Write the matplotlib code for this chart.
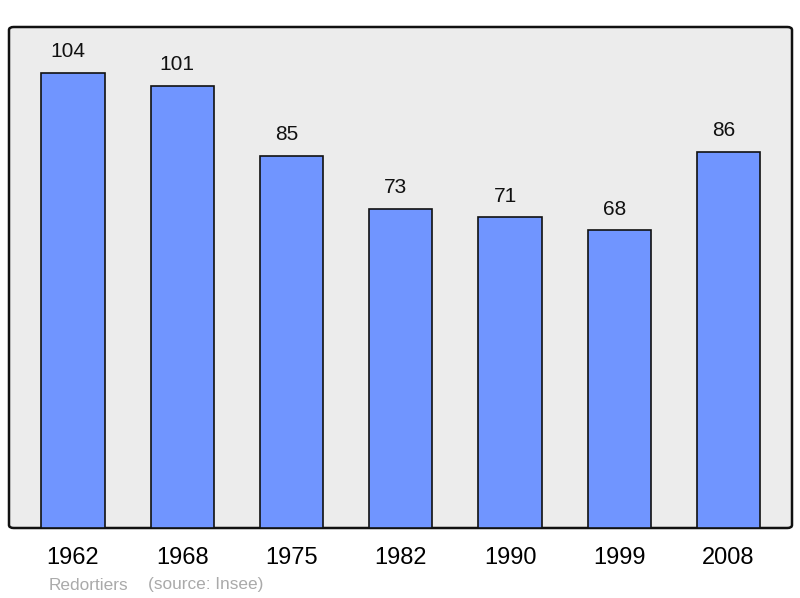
import matplotlib.pyplot as plt
from matplotlib.patches import FancyBboxPatch

years = ['1962', '1968', '1975', '1982', '1990', '1999', '2008']
population = [104, 101, 85, 73, 71, 68, 86]

plt.rcParams['font.family'] = ['Liberation Sans', 'DejaVu Sans']

W, H = 800, 598
fig = plt.figure(figsize=(W / 100, H / 100), dpi=100)
ax = fig.add_axes([9 / W, (H - 528) / H, 783 / W, 501 / H])
ax.set_facecolor('none')

# rounded frame behind the bars
frame = FancyBboxPatch((0, 0), 1, 1, boxstyle='round,pad=0,rounding_size=0.006',
                       transform=ax.transAxes, facecolor='#ececec',
                       edgecolor='#111111', linewidth=1.8, zorder=0, clip_on=False)
ax.add_patch(frame)

x = range(len(years))
ax.bar(x, population, width=0.58, color='#7095ff', edgecolor='#111111',
       linewidth=1.2, zorder=2)

for xi, v in zip(x, population):
    ax.annotate(str(v), (xi, v), xytext=(-3.5, 8.5), textcoords='offset points',
                ha='center', va='bottom', fontsize=15, color='#111111')

ax.set_xlim(-0.585, 6.58)
ax.set_ylim(0, 114.5)
for s in ax.spines.values():
    s.set_visible(False)
ax.set_yticks([])
ax.set_xticks(list(x))
ax.set_xticklabels(years, fontsize=17)
ax.tick_params(axis='x', length=0, pad=14)

fig.text(49 / W, 1 - 585 / H, 'Redortiers', fontsize=12.4, color='#aaaaaa', va='center')
fig.text(148 / W, 1 - 585 / H, '(source: Insee)', fontsize=12.4, color='#aaaaaa', va='center')

fig.savefig('out.png', dpi=100)
